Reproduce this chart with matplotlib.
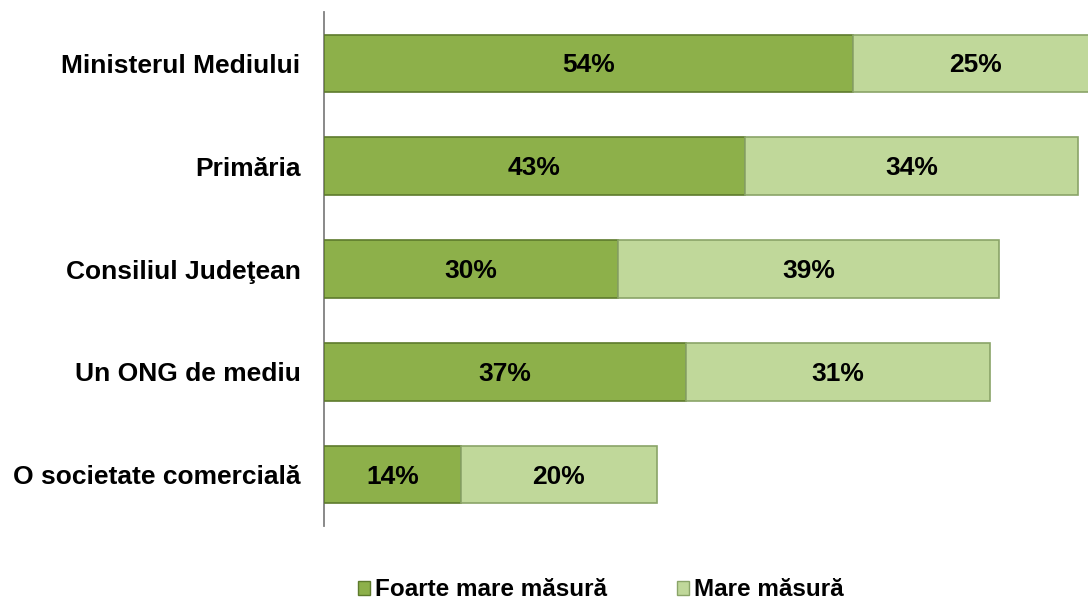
import matplotlib.pyplot as plt
from matplotlib.patches import Patch

plt.rcParams['font.family'] = ['Liberation Sans', 'DejaVu Sans']

categories = ["Ministerul Mediului", "Primăria", "Consiliul Judeţean",
              "Un ONG de mediu", "O societate comercială"]
foarte_mare = [54, 43, 30, 37, 14]
mare = [25, 34, 39, 31, 20]
series_names = ["Foarte mare măsură", "Mare măsură"]

dark_green = "#8db04a"
light_green = "#c0d89a"
edge_dark = "#5d7a2c"
edge_light = "#8aa468"

fig = plt.figure(figsize=(10.88, 6.03), dpi=100)
ax = fig.add_axes([324 / 1088, 77 / 603, 1 - 324 / 1088, 514 / 603])

ypos = list(range(len(categories)))
ax.barh(ypos, foarte_mare, height=0.56, color=dark_green,
        edgecolor=edge_dark, linewidth=1.2, zorder=3)
ax.barh(ypos, mare, left=foarte_mare, height=0.56, color=light_green,
        edgecolor=edge_light, linewidth=1.2, zorder=3)

# value labels in the middle of each segment
for y, a, b in zip(ypos, foarte_mare, mare):
    ax.text(a / 2, y + 0.02, f"{a}%", ha="center", va="center",
            fontsize=19, fontweight="bold", zorder=4)
    ax.text(a + b / 2, y + 0.02, f"{b}%", ha="center", va="center",
            fontsize=19, fontweight="bold", zorder=4)

ax.set_xlim(0, 78.04)
ax.set_ylim(4.5, -0.5)
ax.set_yticks(ypos)
ax.set_yticklabels(categories, fontsize=19, fontweight="bold")
ax.tick_params(axis="y", length=0, pad=17)
ax.set_xticks([])
for side in ["top", "right", "bottom"]:
    ax.spines[side].set_visible(False)
ax.spines["left"].set_color("#808080")
ax.spines["left"].set_linewidth(1.3)

handles = [Patch(facecolor=dark_green, edgecolor=edge_dark),
           Patch(facecolor=light_green, edgecolor=edge_light)]
fig.legend(handles, series_names, loc="center", bbox_to_anchor=(0.552, 0.022),
           ncol=2, frameon=False, handlelength=0.5, handleheight=0.5,
           handletextpad=0.2, columnspacing=2.9, borderpad=0.2,
           prop={"size": 17.5, "weight": "bold"})

fig.savefig("out.png", dpi=100)
